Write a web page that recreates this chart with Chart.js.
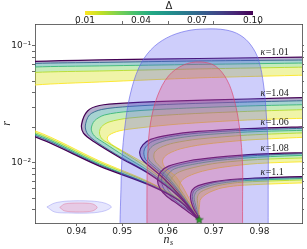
<!DOCTYPE html>
<html>
<head>
<meta charset="utf-8">
<script src="https://cdn.jsdelivr.net/npm/chart.js@4.4.1/dist/chart.umd.min.js"></script>
<style>
  body { margin: 0; background: #fff; }
  #wrap { position: relative; width: 307px; height: 249px; }
  #main, #cbar { position: absolute; left: 0; top: 0; }
</style>
</head>
<body>
<div id="wrap">
  <canvas id="main" width="307" height="249"></canvas>
  <canvas id="cbar" width="307" height="24"></canvas>
</div>
<script>
'use strict';

/* ─── Axes ────────────────────────────────────────────────── */
var xMin = 0.9309, xMax = 0.9893;
var yMin = 0.00307, yMax = 0.154;
var xTicks = [0.94, 0.95, 0.96, 0.97, 0.98];
var yTicks = [0.004, 0.005, 0.006, 0.007, 0.008, 0.009, 0.01,
              0.02, 0.03, 0.04, 0.05, 0.06, 0.07, 0.08, 0.09, 0.1];
var yTickLabels = { '0.1': '10\u207b\u00b9', '0.01': '10\u207b\u00b2' };

/* ─── Colour bar (Delta) ──────────────────────────────────── */
var cbMin = 0.01, cbMax = 0.10;
var cbTicks = [0.01, 0.04, 0.07, 0.10];

/* Delta values of the curves, in the order of each curve list below */
var deltas = [0.01, 0.02, 0.04, 0.07, 0.10];
var kappas = ['1.01', '1.04', '1.06', '1.08', '1.1'];
var kappaLabelNs = [0.9802, 0.9802, 0.9802, 0.9802, 0.9802];
var kappaLabelR  = [0.0889, 0.0396, 0.0224, 0.0134, 0.00838];

/* curves [ns, r], from the right edge round the turn down to the star */
var k101 = [
  [[0.9915,0.0565],[0.9666,0.0533],[0.9450,0.0492],[0.9309,0.0464],[0.9223,0.0421],[0.9201,0.0284],[0.9223,0.0211],[0.9309,0.0188],[0.9450,0.0104],[0.9558,0.0069],[0.9623,0.0049],[0.9668,0.00326]],
  [[0.9915,0.0661],[0.9666,0.0636],[0.9450,0.0611],[0.9309,0.0594],[0.9212,0.0554],[0.9179,0.0326],[0.9212,0.0211],[0.9309,0.0182],[0.9450,0.0101],[0.9558,0.0068],[0.9623,0.0049],[0.9668,0.00326]],
  [[0.9915,0.0716],[0.9666,0.0695],[0.9450,0.0675],[0.9309,0.0661],[0.9208,0.0624],[0.9169,0.0352],[0.9208,0.0211],[0.9309,0.0177],[0.9450,0.0098],[0.9558,0.0066],[0.9623,0.0049],[0.9668,0.00326]],
  [[0.9915,0.0759],[0.9666,0.0744],[0.9450,0.0723],[0.9309,0.0709],[0.9203,0.0675],[0.9162,0.0366],[0.9203,0.0211],[0.9309,0.0172],[0.9450,0.0096],[0.9558,0.0066],[0.9623,0.0048],[0.9668,0.00326]],
  [[0.9915,0.0805],[0.9666,0.0781],[0.9450,0.0759],[0.9309,0.0737],[0.9201,0.0702],[0.9158,0.0381],[0.9201,0.0211],[0.9309,0.0167],[0.9450,0.0094],[0.9558,0.0065],[0.9623,0.0048],[0.9668,0.00326]]
];
var k104 = [
  [[0.9915,0.0242],[0.9774,0.0233],[0.9623,0.0215],[0.9536,0.0199],[0.9493,0.0188],[0.9471,0.0173],[0.9467,0.0160],[0.9476,0.0145],[0.9493,0.0132],[0.9525,0.0112],[0.9569,0.0089],[0.9623,0.0056],[0.9668,0.00326]],
  [[0.9915,0.0287],[0.9774,0.0276],[0.9623,0.0260],[0.9515,0.0242],[0.9471,0.0224],[0.9454,0.0203],[0.9450,0.0180],[0.9456,0.0160],[0.9476,0.0143],[0.9515,0.0115],[0.9562,0.0087],[0.9623,0.0055],[0.9668,0.00326]],
  [[0.9915,0.0316],[0.9774,0.0307],[0.9623,0.0292],[0.9515,0.0276],[0.9461,0.0257],[0.9439,0.0229],[0.9432,0.0195],[0.9439,0.0170],[0.9461,0.0148],[0.9504,0.0115],[0.9558,0.0085],[0.9623,0.0054],[0.9668,0.00326]],
  [[0.9915,0.0342],[0.9774,0.0332],[0.9623,0.0319],[0.9515,0.0304],[0.9454,0.0286],[0.9428,0.0257],[0.9419,0.0207],[0.9424,0.0177],[0.9445,0.0150],[0.9497,0.0112],[0.9558,0.0082],[0.9623,0.0053],[0.9668,0.00326]],
  [[0.9915,0.0363],[0.9774,0.0352],[0.9623,0.0339],[0.9515,0.0326],[0.9450,0.0310],[0.9424,0.0278],[0.9411,0.0215],[0.9415,0.0180],[0.9439,0.0151],[0.9493,0.0112],[0.9558,0.0081],[0.9623,0.0052],[0.9668,0.00326]]
];
var k106 = [
  [[0.9915,0.0167],[0.9774,0.0157],[0.9677,0.0144],[0.9627,0.0132],[0.9601,0.0120],[0.9590,0.0110],[0.9588,0.0102],[0.9592,0.0093],[0.9603,0.0085],[0.9618,0.0076],[0.9640,0.0055],[0.9668,0.00326]],
  [[0.9915,0.0182],[0.9774,0.0173],[0.9666,0.0160],[0.9612,0.0148],[0.9584,0.0136],[0.9571,0.0124],[0.9569,0.0112],[0.9573,0.0102],[0.9584,0.0092],[0.9605,0.0077],[0.9634,0.0054],[0.9668,0.00326]],
  [[0.9915,0.0191],[0.9774,0.0184],[0.9666,0.0172],[0.9605,0.0159],[0.9573,0.0145],[0.9560,0.0132],[0.9556,0.0117],[0.9560,0.0104],[0.9575,0.0092],[0.9599,0.0076],[0.9631,0.0053],[0.9668,0.00326]],
  [[0.9915,0.0199],[0.9774,0.0191],[0.9666,0.0180],[0.9601,0.0167],[0.9566,0.0153],[0.9551,0.0137],[0.9547,0.0122],[0.9551,0.0107],[0.9569,0.0092],[0.9595,0.0075],[0.9629,0.0053],[0.9668,0.00326]],
  [[0.9915,0.0205],[0.9774,0.0197],[0.9666,0.0186],[0.9601,0.0173],[0.9562,0.0159],[0.9545,0.0143],[0.9538,0.0124],[0.9543,0.0108],[0.9562,0.0092],[0.9590,0.0074],[0.9627,0.0052],[0.9668,0.00326]]
];
var k108 = [
  [[0.9915,0.0103],[0.9796,0.0099],[0.9720,0.0092],[0.9675,0.0085],[0.9644,0.0077],[0.9629,0.0070],[0.9625,0.0064],[0.9627,0.0058],[0.9634,0.0052],[0.9646,0.0046],[0.9659,0.0039],[0.9668,0.00326]],
  [[0.9915,0.0111],[0.9796,0.0107],[0.9709,0.0100],[0.9659,0.0092],[0.9625,0.0084],[0.9610,0.0076],[0.9605,0.0068],[0.9610,0.0060],[0.9618,0.0053],[0.9638,0.0045],[0.9655,0.0038],[0.9668,0.00326]],
  [[0.9915,0.0117],[0.9796,0.0112],[0.9709,0.0105],[0.9653,0.0097],[0.9614,0.0089],[0.9599,0.0079],[0.9595,0.0070],[0.9599,0.0060],[0.9610,0.0053],[0.9631,0.0045],[0.9653,0.0038],[0.9668,0.00326]],
  [[0.9915,0.0121],[0.9796,0.0116],[0.9709,0.0109],[0.9649,0.0101],[0.9608,0.0092],[0.9590,0.0082],[0.9586,0.0071],[0.9590,0.0061],[0.9603,0.0053],[0.9627,0.0044],[0.9651,0.0038],[0.9668,0.00326]],
  [[0.9915,0.0123],[0.9796,0.0119],[0.9709,0.0112],[0.9644,0.0104],[0.9601,0.0094],[0.9584,0.0084],[0.9577,0.0072],[0.9582,0.0061],[0.9597,0.0052],[0.9623,0.0044],[0.9649,0.0037],[0.9668,0.00326]]
];
var k110 = [
  [[0.9915,0.0068],[0.9817,0.0066],[0.9752,0.0064],[0.9716,0.0061],[0.9690,0.0056],[0.9677,0.0052],[0.9670,0.0048],[0.9669,0.0044],[0.9668,0.0040],[0.9668,0.0036],[0.9668,0.00326]],
  [[0.9915,0.0072],[0.9817,0.0070],[0.9752,0.0068],[0.9709,0.0064],[0.9681,0.0059],[0.9668,0.0055],[0.9664,0.0050],[0.9665,0.0045],[0.9666,0.0040],[0.9667,0.0036],[0.9668,0.00326]],
  [[0.9915,0.0074],[0.9817,0.0072],[0.9752,0.0070],[0.9705,0.0066],[0.9675,0.0061],[0.9662,0.0057],[0.9657,0.0051],[0.9659,0.0046],[0.9663,0.0040],[0.9666,0.0036],[0.9668,0.00326]],
  [[0.9915,0.0075],[0.9817,0.0074],[0.9752,0.0072],[0.9701,0.0068],[0.9670,0.0062],[0.9657,0.0058],[0.9653,0.0052],[0.9655,0.0046],[0.9660,0.0040],[0.9665,0.0036],[0.9668,0.00326]],
  [[0.9915,0.0077],[0.9817,0.0075],[0.9752,0.0073],[0.9698,0.0069],[0.9666,0.0064],[0.9653,0.0059],[0.9649,0.0052],[0.9651,0.0046],[0.9657,0.0040],[0.9664,0.0036],[0.9668,0.00326]]
];

/* Observational contours (2 sigma, 1 sigma) and the small inset pair */
var contour2s = [[0.9495,0.002],[0.9495,0.0031],[0.9497,0.0059],[0.9499,0.0106],[0.9506,0.0211],[0.9517,0.0381],[0.9536,0.0649],[0.9562,0.0924],[0.9597,0.1171],[0.9640,0.1343],[0.9683,0.1397],[0.9726,0.1370],[0.9757,0.1242],[0.9781,0.1020],[0.9798,0.0759],[0.9809,0.0464],[0.9815,0.0257],[0.9819,0.0129],[0.9819,0.0059],[0.9819,0.002]];
var contour1s = [[0.9554,0.002],[0.9554,0.0065],[0.9556,0.0129],[0.9562,0.0224],[0.9577,0.0374],[0.9601,0.0554],[0.9634,0.0688],[0.9670,0.0730],[0.9703,0.0675],[0.9729,0.0512],[0.9746,0.0332],[0.9757,0.0191],[0.9763,0.0096],[0.9763,0.0048],[0.9763,0.002]];
var inset2s = [[0.9335,0.00421],[0.9352,0.00455],[0.9381,0.00473],[0.9432,0.00473],[0.9461,0.00455],[0.9476,0.00421],[0.9461,0.00389],[0.9432,0.00374],[0.9381,0.00374],[0.9352,0.00381],[0.9335,0.00421]];
var inset1s = [[0.9363,0.00417],[0.9374,0.00447],[0.9406,0.00455],[0.9435,0.00447],[0.9445,0.00417],[0.9435,0.00389],[0.9406,0.00381],[0.9374,0.00389],[0.9363,0.00417]];
var starPoint = [0.9668, 0.00326];

/* ─── Couleurs ────────────────────────────────────────────── */
var viridisStops = ['#440154','#482475','#414487','#355f8d','#2a788e','#21918c',
                    '#22a884','#44bf70','#7ad151','#bddf26','#fde725'];

function hexRgb(h) {
  return [parseInt(h.substr(1, 2), 16), parseInt(h.substr(3, 2), 16), parseInt(h.substr(5, 2), 16)];
}
function viridis(t, alpha) {
  t = Math.max(0, Math.min(1, t));
  var p = t * 10, i = Math.min(9, Math.floor(p)), f = p - i;
  var a = hexRgb(viridisStops[i]), b = hexRgb(viridisStops[i + 1]);
  var c = [0, 1, 2].map(function(k) { return Math.round(a[k] + (b[k] - a[k]) * f); });
  return 'rgba(' + c[0] + ',' + c[1] + ',' + c[2] + ',' + alpha + ')';
}
/* small Delta -> yellow, large Delta -> purple */
function deltaColor(d, alpha) { return viridis((cbMax - d) / (cbMax - cbMin), alpha); }

function toXY(arr) { return arr.map(function(p) { return { x: p[0], y: p[1] }; }); }

function makeStar(size) {
  var c = document.createElement('canvas');
  c.width = size; c.height = size;
  var g = c.getContext('2d');
  var cx = size / 2, cy = size / 2, R = size / 2 - 0.5, r = R * 0.45;
  g.beginPath();
  for (var k = 0; k < 10; k++) {
    var a = -Math.PI / 2 + k * Math.PI / 5, rad = (k % 2) ? r : R;
    g.lineTo(cx + rad * Math.cos(a), cy + rad * Math.sin(a));
  }
  g.closePath();
  g.fillStyle = '#2ca02c'; g.fill();
  g.strokeStyle = '#145214'; g.lineWidth = 0.6; g.stroke();
  return c;
}

/* ─── Datasets ────────────────────────────────────────────── */
var datasets = [];
[k101, k104, k106, k108, k110].forEach(function(curves) {
  var i;
  for (i = 0; i < curves.length - 1; i++) {
    var poly = curves[i].concat(curves[i + 1].slice(0, -1).reverse());
    datasets.push({
      data: toXY(poly), showLine: true, fill: 'shape',
      backgroundColor: deltaColor((deltas[i] + deltas[i + 1]) / 2, 0.4),
      borderColor: 'rgba(0,0,0,0)', borderWidth: 0, pointRadius: 0, tension: 0.3, order: 40
    });
  }
  for (i = 0; i < curves.length; i++) {
    datasets.push({
      data: toXY(curves[i]), showLine: true, fill: false,
      borderColor: deltaColor(deltas[i], 1), borderWidth: i === curves.length - 1 ? 1.2 : 0.9,
      pointRadius: 0, tension: 0.3, order: 34 - i
    });
  }
});

datasets.push({ data: toXY(contour2s), showLine: true, fill: 'shape',
  backgroundColor: 'rgba(80,80,240,0.28)', borderColor: 'rgba(100,100,235,0.8)',
  borderWidth: 0.8, pointRadius: 0, tension: 0.35, order: 21 });
datasets.push({ data: toXY(contour1s), showLine: true, fill: 'shape',
  backgroundColor: 'rgba(230,70,120,0.28)', borderColor: 'rgba(220,70,110,0.85)',
  borderWidth: 0.8, pointRadius: 0, tension: 0.35, order: 20 });
datasets.push({ data: toXY(inset2s), showLine: true, fill: 'shape',
  backgroundColor: 'rgba(80,80,240,0.14)', borderColor: 'rgba(100,100,235,0.4)',
  borderWidth: 0.8, pointRadius: 0, tension: 0.3, order: 21 });
datasets.push({ data: toXY(inset1s), showLine: true, fill: 'shape',
  backgroundColor: 'rgba(230,70,120,0.18)', borderColor: 'rgba(220,70,110,0.4)',
  borderWidth: 0.8, pointRadius: 0, tension: 0.3, order: 20 });
datasets.push({ data: [{ x: starPoint[0], y: starPoint[1] }], showLine: false,
  pointStyle: makeStar(9), pointRadius: 4, order: 0 });

/* ─── Textes : kappa, titres d'axes ───────────────────────── */
var textPlugin = {
  id: 'texts',
  afterDraw: function(chart) {
    var ctx = chart.ctx, xs = chart.scales.x, ys = chart.scales.y, a = chart.chartArea;
    ctx.save();
    ctx.fillStyle = '#1a1a1a';
    ctx.textBaseline = 'middle';
    ctx.textAlign = 'left';
    for (var i = 0; i < kappas.length; i++) {
      var px = xs.getPixelForValue(kappaLabelNs[i]);
      var py = ys.getPixelForValue(kappaLabelR[i]);
      ctx.font = 'italic 10px "Liberation Serif"';
      ctx.fillText('\u03ba', px, py);
      var w = ctx.measureText('\u03ba').width;
      ctx.font = '10px "Liberation Serif"';
      ctx.fillText('=' + kappas[i], px + w + 0.5, py);
    }
    /* n_s */
    var cx = (a.left + a.right) / 2;
    ctx.font = 'italic 12px "Liberation Serif"';
    ctx.textAlign = 'right';
    ctx.fillText('n', cx + 1, 240);
    ctx.font = 'italic 8px "Liberation Serif"';
    ctx.textAlign = 'left';
    ctx.fillText('s', cx + 1.5, 243);
    /* r */
    ctx.translate(7, (a.top + a.bottom) / 2);
    ctx.rotate(-Math.PI / 2);
    ctx.textAlign = 'center';
    ctx.font = 'italic 12px "Liberation Serif"';
    ctx.fillText('r', 0, 0);
    ctx.restore();
  }
};

function setXTicks(s) { s.ticks = xTicks.map(function(v) { return { value: v }; }); }
function setYTicks(s) { s.ticks = yTicks.map(function(v) { return { value: v, major: !!yTickLabels[String(v)] }; }); }

var frame = { color: '#444', width: 0.8 };
var tickGrid = { drawOnChartArea: false, tickLength: 3, tickColor: '#444', tickWidth: 0.8 };

new Chart(document.getElementById('main'), {
  type: 'scatter',
  data: { datasets: datasets },
  options: {
    responsive: false, animation: false, events: [],
    devicePixelRatio: 1,
    plugins: { legend: { display: false }, tooltip: { enabled: false } },
    scales: {
      x: {
        type: 'linear', position: 'bottom', min: xMin, max: xMax,
        afterBuildTicks: setXTicks,
        afterFit: function(s) { s.height = 26; },
        ticks: { callback: function(v) { return v.toFixed(2); }, autoSkip: false, maxRotation: 0,
                 font: { family: 'DejaVu Sans', size: 9 }, color: '#222', padding: 0 },
        grid: tickGrid, border: frame
      },
      x2: {
        type: 'linear', position: 'top', min: xMin, max: xMax,
        afterBuildTicks: setXTicks,
        afterFit: function(s) { s.height = 24; },
        ticks: { display: false },
        grid: tickGrid, border: frame
      },
      y: {
        type: 'logarithmic', position: 'left', min: yMin, max: yMax,
        afterBuildTicks: setYTicks,
        afterFit: function(s) { s.width = 35; },
        ticks: { callback: function(v) { return yTickLabels[String(v)] || ''; }, autoSkip: false,
                 font: { family: 'DejaVu Sans', size: 9 }, color: '#222', padding: 1 },
        grid: tickGrid, border: frame
      },
      y2: {
        type: 'logarithmic', position: 'right', min: yMin, max: yMax,
        afterBuildTicks: setYTicks,
        afterFit: function(s) { s.width = 2; },
        ticks: { display: false },
        grid: { drawOnChartArea: false, tickLength: 2, tickColor: '#444', tickWidth: 0.8 },
        border: frame
      }
    }
  },
  plugins: [textPlugin]
});

/* ─── Barre de couleur ────────────────────────────────────── */
new Chart(document.getElementById('cbar'), {
  type: 'bar',
  data: {
    labels: ['\u0394'],
    datasets: [{
      data: [[cbMin, cbMax]],
      backgroundColor: function(c) {
        var a = c.chart.chartArea;
        if (!a) { return '#888'; }
        var g = c.chart.ctx.createLinearGradient(a.left, 0, a.right, 0);
        for (var k = 0; k <= 10; k++) { g.addColorStop(k / 10, viridisStops[10 - k]); }
        return g;
      },
      borderWidth: 0, barPercentage: 1, categoryPercentage: 1
    }]
  },
  options: {
    indexAxis: 'y', responsive: false, animation: false, events: [],
    devicePixelRatio: 1,
    layout: { padding: { left: 85, right: 54, top: 0, bottom: 0 } },
    plugins: {
      legend: { display: false }, tooltip: { enabled: false },
      title: { display: true, text: '\u0394', color: '#222',
               font: { family: 'DejaVu Sans', size: 10, weight: 'normal', lineHeight: 1 },
               padding: { top: 1, bottom: 0 } }
    },
    scales: {
      x: {
        type: 'linear', min: cbMin, max: cbMax,
        afterBuildTicks: function(s) { s.ticks = cbTicks.map(function(v) { return { value: v }; }); },
        afterFit: function(s) { s.height = 9; },
        ticks: { callback: function(v) { return v.toFixed(2); }, autoSkip: false, maxRotation: 0,
                 font: { family: 'DejaVu Sans', size: 9 }, color: '#222', padding: 0 },
        grid: { display: false, drawTicks: false }, border: { display: false }
      },
      y: { display: false }
    }
  }
});
</script>
</body>
</html>
